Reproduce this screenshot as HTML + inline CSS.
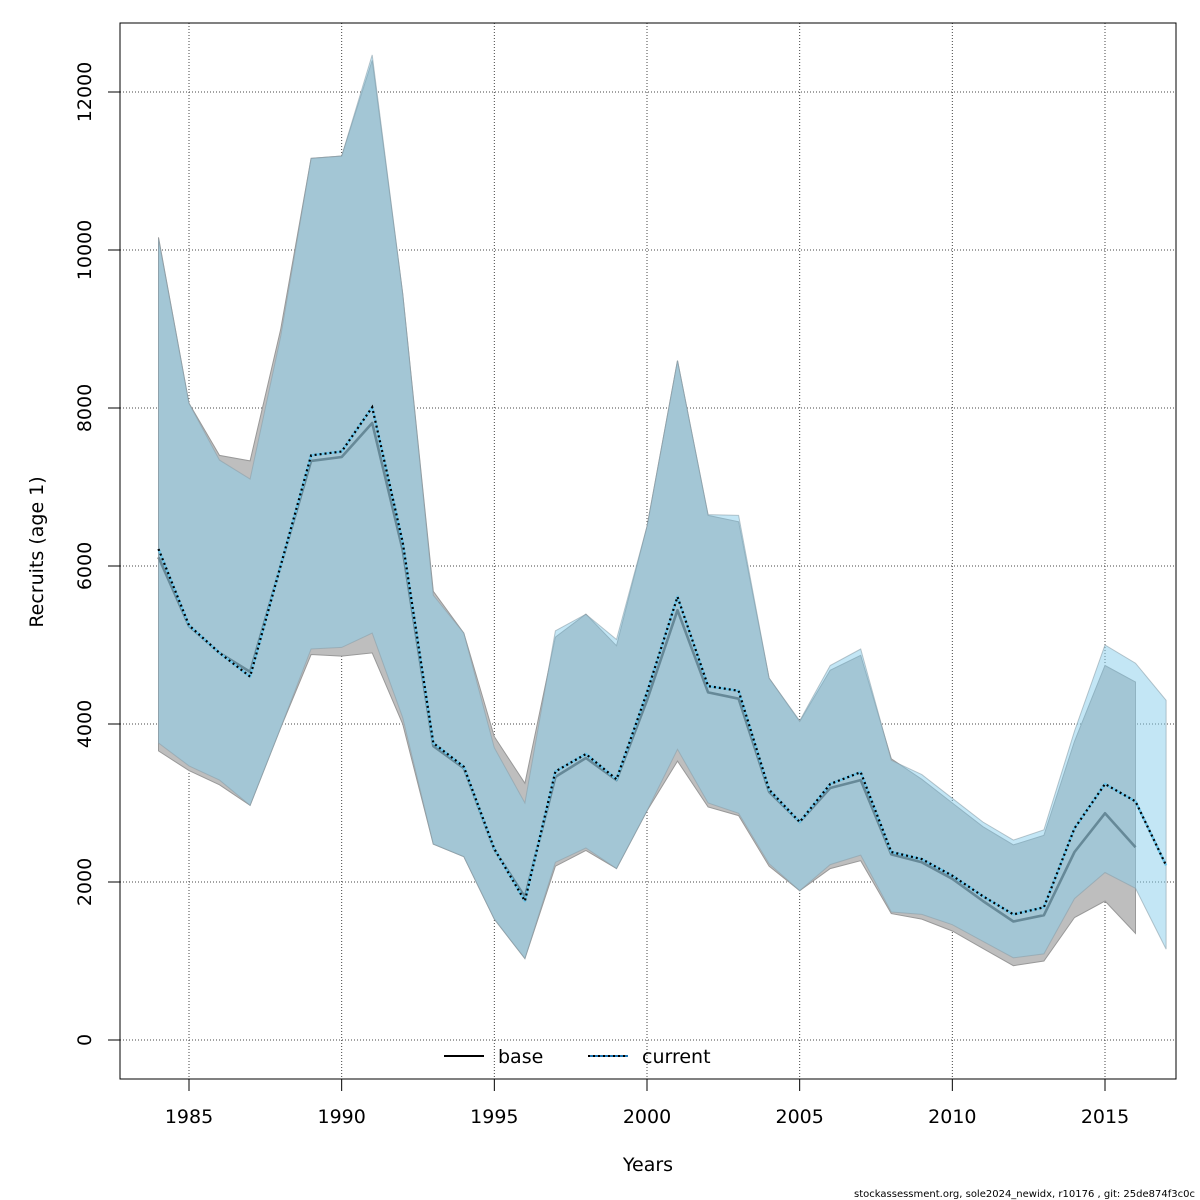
<!DOCTYPE html>
<html><head><meta charset="utf-8">
<style>
body{margin:0;background:#fff;}
svg{display:block;font-family:"DejaVu Sans","Liberation Sans",sans-serif;}
</style></head>
<body>
<svg id="chart" width="1200" height="1200" viewBox="0 0 1200 1200" xmlns="http://www.w3.org/2000/svg">
<rect width="1200" height="1200" fill="#fff"/>
<g id="grid"></g>
<g id="series"></g>
<g id="axes"></g>
<rect x="120" y="23" width="1056" height="1056" fill="none" stroke="#000" stroke-width="1"/>
<text x="648" y="1171" font-size="19" text-anchor="middle">Years</text>
<text transform="translate(43,552) rotate(-90)" font-size="19" text-anchor="middle">Recruits (age 1)</text>
<g>
<g>
<line x1="444" y1="1056" x2="484" y2="1056" stroke="#000" stroke-width="2"/>
<text x="498" y="1063" font-size="19">base</text>
</g>
<g>
<line x1="588" y1="1056" x2="628" y2="1056" stroke="#1f78b4" stroke-width="2"/>
<line x1="588" y1="1056" x2="628" y2="1056" stroke="#000" stroke-width="2" stroke-dasharray="2,3"/>
<text x="642" y="1063" font-size="19">current</text>
</g>
</g>
<text x="1195" y="1197" font-size="10" text-anchor="end">stockassessment.org, sole2024_newidx, r10176 , git: 25de874f3c0c</text>
</svg>
<script>
const baseYears = [1984,1985,1986,1987,1988,1989,1990,1991,1992,1993,1994,1995,1996,1997,1998,1999,2000,2001,2002,2003,2004,2005,2006,2007,2008,2009,2010,2011,2012,2013,2014,2015,2016];
const baseMid = [6110,5240,4900,4660,6000,7330,7380,7810,6200,3720,3440,2410,1810,3330,3570,3290,4300,5440,4400,4320,3140,2760,3190,3290,2350,2250,2040,1760,1500,1580,2380,2870,2440];
const baseLow = [3660,3410,3230,2970,3950,4880,4860,4900,4000,2480,2320,1530,1030,2200,2400,2170,2900,3530,2950,2840,2200,1890,2170,2270,1600,1530,1380,1160,940,1000,1550,1760,1350];
const baseHigh = [10160,8060,7400,7330,8990,11160,11190,12400,9450,5680,5150,3840,3250,5100,5390,4990,6500,8600,6640,6560,4580,4030,4680,4870,3560,3300,3000,2700,2470,2590,3780,4740,4530];
const curYears = [1984,1985,1986,1987,1988,1989,1990,1991,1992,1993,1994,1995,1996,1997,1998,1999,2000,2001,2002,2003,2004,2005,2006,2007,2008,2009,2010,2011,2012,2013,2014,2015,2016,2017];
const curMid = [6215,5250,4900,4600,6000,7400,7450,8010,6300,3760,3460,2420,1760,3400,3620,3300,4400,5610,4480,4420,3170,2760,3240,3390,2380,2290,2080,1820,1590,1680,2680,3240,3020,2210];
const curLow = [3760,3470,3290,2970,3950,4950,4970,5150,4080,2480,2320,1530,1030,2250,2430,2170,2900,3680,3000,2870,2230,1890,2220,2340,1620,1590,1460,1250,1040,1090,1790,2120,1920,1150];
const curHigh = [10140,8060,7340,7100,8900,11160,11190,12470,9450,5630,5150,3700,3000,5180,5390,5070,6500,8600,6650,6640,4580,4040,4740,4950,3540,3360,3060,2760,2530,2660,3910,5000,4770,4300];
const xTicks = [1985,1990,1995,2000,2005,2010,2015];
const yTicks = [0,2000,4000,6000,8000,10000,12000];

const NS = "http://www.w3.org/2000/svg";
function xs(yr){ return 189 + (yr-1985)*(916/30); }
function ys(v){ return 1040 - v*0.079; }
function mk(tag, attrs, parent){ const e=document.createElementNS(NS,tag); for(const k in attrs) e.setAttribute(k,attrs[k]); parent.appendChild(e); return e; }
function bandPath(yrs, lo, hi){
  let d = yrs.map((y,i)=>(i?'L':'M')+xs(y).toFixed(1)+','+ys(hi[i]).toFixed(1)).join(' ');
  for(let i=yrs.length-1;i>=0;i--) d += ' L'+xs(yrs[i]).toFixed(1)+','+ys(lo[i]).toFixed(1);
  return d+' Z';
}
function linePath(yrs, v){ return yrs.map((y,i)=>(i?'L':'M')+xs(y).toFixed(1)+','+ys(v[i]).toFixed(1)).join(' '); }

const grid = document.getElementById('grid');
const axes = document.getElementById('axes');
const series = document.getElementById('series');

xTicks.forEach(t=>{
  const g = mk('line',{x1:xs(t),x2:xs(t),y1:23,y2:1079,stroke:'#444','stroke-width':1,'stroke-dasharray':'1,2'},grid);
  
  
  const tk = mk('line',{x1:xs(t),x2:xs(t),y1:1079,y2:1091,stroke:'#000','stroke-width':1},axes);
  
  
  const lb = mk('text',{x:xs(t),y:1123,'font-size':19,'text-anchor':'middle'},axes);
  lb.textContent = t;
  
  
});
yTicks.forEach(t=>{
  const g = mk('line',{x1:120,x2:1176,y1:ys(t),y2:ys(t),stroke:'#444','stroke-width':1,'stroke-dasharray':'1,2'},grid);
  
  
  const tk = mk('line',{x1:108,x2:120,y1:ys(t),y2:ys(t),stroke:'#000','stroke-width':1},axes);
  
  
  const lb = mk('text',{transform:'translate(91,'+ys(t)+') rotate(-90)','font-size':19,'text-anchor':'middle'},axes);
  lb.textContent = t;
  
  
});

const b1 = mk('path',{d:bandPath(baseYears,baseLow,baseHigh),fill:'#bebebe',stroke:'#999','stroke-width':1},series);


const l1 = mk('path',{d:linePath(baseYears,baseMid),fill:'none',stroke:'#444','stroke-width':2.6,'stroke-linejoin':'round'},series);


const b2 = mk('path',{d:bandPath(curYears,curLow,curHigh),fill:'rgba(135,206,235,0.5)',stroke:'rgba(140,160,170,0.6)','stroke-width':1},series);


const l2a = mk('path',{d:linePath(curYears,curMid),fill:'none',stroke:'#6ec6ea','stroke-width':2.5,'stroke-linejoin':'round'},series);


const l2 = mk('path',{d:linePath(curYears,curMid),fill:'none',stroke:'#000','stroke-width':2.2,'stroke-dasharray':'2,3'},series);


</script>
</body></html>
